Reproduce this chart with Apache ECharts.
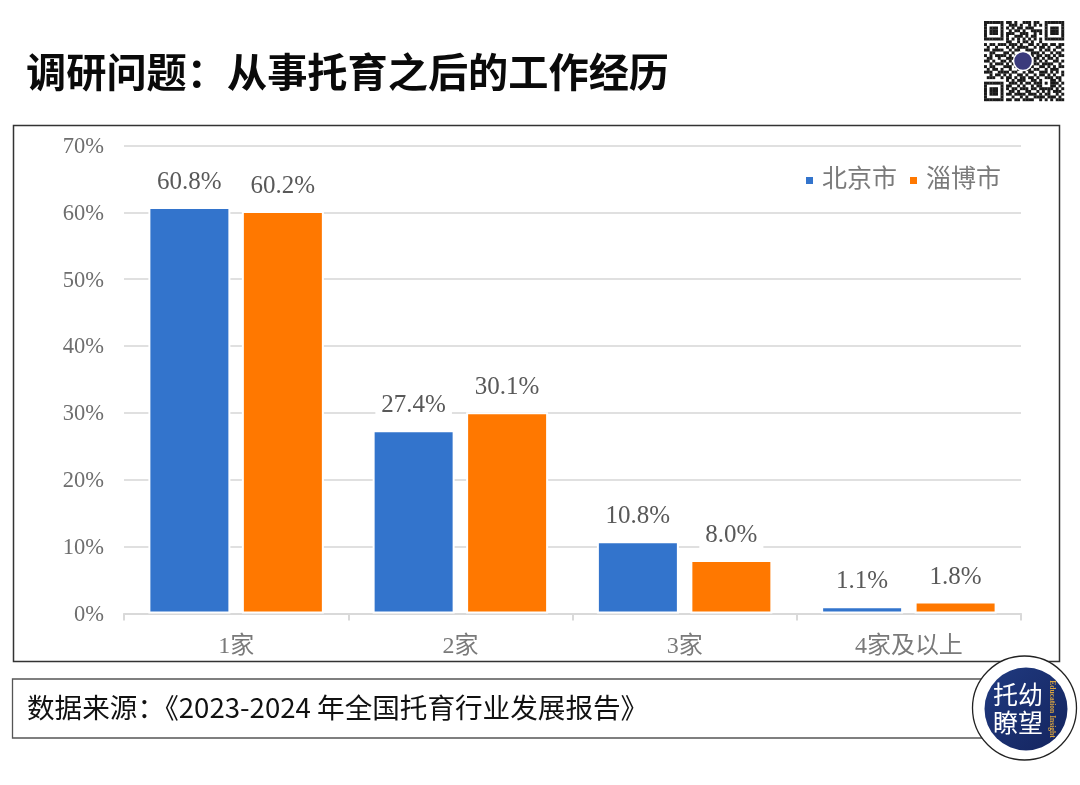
<!DOCTYPE html>
<html><head><meta charset="utf-8">
<style>html,body{margin:0;padding:0;background:#fff}#c{width:1080px;height:785px}</style>
<script src="https://cdn.jsdelivr.net/npm/echarts@6/dist/echarts.min.js"></script>
</head><body><div id="c"></div>
<script>
const categories = ['1家','2家','3家','4家及以上'];
const beijing = [60.8,27.4,10.8,1.1];
const zibo = [60.2,30.1,8.0,1.8];
const seriesNames = ['北京市','淄博市'];
const titleText = '调研问题\uFF1A从事托育之后的工作经历';
const sourceText = '数据来源\uFF1A《2023-2024 年全国托育行业发展报告》';
const qrRows = [
"11111110110100111011001111111",
"10000010011101001010101000001",
"10111010101011011100001011101",
"10111010010110100111101011101",
"10111010111001110010101011101",
"10000010100111010110001000001",
"11111110101010101010101111111",
"00000000110010110100100000000",
"10110111011101001101011011011",
"01001000101011110010110100110",
"11011110010110011100101101001",
"00110001101001100111010010110",
"10101111010110000101101101011",
"01100100111000000011010110100",
"11010011010000000010101001101",
"00101110101000000011011110010",
"10110001110100000100110101011",
"01011010010011011011001011100",
"11100111101100101100111010101",
"00101101010011010010110101001",
"01110010110101101101001110110",
"00000000101011100110100011010",
"11111110011101011011101011101",
"10000010110010100101100011010",
"10111010101101110110111110101",
"10111010011010011001010101110",
"10111010110111101110101100101",
"10000010001001010011110111010",
"11111110110110111100101010111"];

const SERIF = '"Liberation Serif","Noto Sans CJK SC",serif';
const SANS = '"Noto Sans CJK SC",sans-serif';
const qr = [];
const m = 80/29;
qrRows.forEach((r,y)=>{[...r].forEach((v,x)=>{ if(v==='1') qr.push({type:'rect',shape:{x:984+x*m,y:21+y*m,width:m+0.2,height:m+0.2},style:{fill:'#1a1a1a'},silent:true}); });});

const mkLabel = {show:true,position:'top',distance:8,formatter:p=>p.value.toFixed(1)+'%',
  fontFamily:SERIF,fontSize:25,color:'#595959',backgroundColor:'#fff',padding:[4,6]};
const mkSeries = (name,data,color)=>({name,type:'bar',data,barWidth:82,barGap:'14%',
  itemStyle:{color,borderColor:'#fff',borderWidth:2},label:mkLabel,emphasis:{disabled:true}});

const chart = echarts.init(document.getElementById('c'),null,{renderer:'canvas'});
chart.setOption({
  animation:false,
  backgroundColor:'#fff',
  title:{text:titleText,left:26,top:45,padding:0,textStyle:{fontFamily:SANS,fontWeight:700,fontSize:40.2,color:'#0a0a0a',lineHeight:54}},
  legend:{data:seriesNames,right:79,top:168,itemWidth:9,itemHeight:9,itemGap:11,icon:'rect',padding:0,
    textStyle:{fontFamily:SERIF,fontSize:25,color:'#7a7a7a',padding:[0,0,0,3]}},
  grid:{left:124,right:59,top:145.5,bottom:171.5,containLabel:false},
  xAxis:{type:'category',data:categories,
    axisLine:{lineStyle:{color:'#d9d9d9',width:2}},
    axisTick:{show:true,length:7,alignWithLabel:false,lineStyle:{color:'#d9d9d9',width:2}},
    axisLabel:{fontFamily:SERIF,fontSize:24,color:'#7a7a7a',margin:21}},
  yAxis:{type:'value',min:0,max:70,interval:10,
    axisLine:{show:false},axisTick:{show:false},
    splitLine:{lineStyle:{color:'#e0e0e0',width:2}},
    axisLabel:{formatter:'{value}%',fontFamily:SERIF,fontSize:22.5,color:'#6e6e6e',margin:20,verticalAlign:'top',lineHeight:3}},
  series:[mkSeries(seriesNames[0],beijing,'#3374cc'),mkSeries(seriesNames[1],zibo,'#ff7800')],
  graphic:{elements:[
    {type:'rect',z:-1,shape:{x:13.5,y:125.5,width:1046,height:536},style:{fill:'none',stroke:'#333',lineWidth:1.5},silent:true},
    {type:'rect',z:1,shape:{x:12.5,y:679,width:1000,height:59},style:{fill:'#fff',stroke:'#555',lineWidth:1.3},silent:true},
    {type:'text',z:2,style:{x:27,y:708,text:sourceText,fontFamily:SANS,fontSize:27.6,fill:'#111',textVerticalAlign:'middle'},silent:true},
    {type:'group',z:5,children:qr},
    {type:'circle',z:6,shape:{cx:1023,cy:61,r:9.5},style:{fill:'#3a3a7c',stroke:'#fff',lineWidth:1.5},silent:true},
    {type:'circle',z:7,shape:{cx:1024.5,cy:708,r:52},style:{fill:'#fff',stroke:'#222',lineWidth:1.3},silent:true},
    {type:'circle',z:8,shape:{cx:1026,cy:709,r:41.5},style:{fill:new echarts.graphic.LinearGradient(0,0,1,1,[{offset:0,color:'#203a80'},{offset:1,color:'#14245e'}])},silent:true},
    {type:'text',z:9,style:{x:1018,y:697,text:'托幼',fontFamily:SERIF,fontSize:25,fill:'#fff',textAlign:'center',textVerticalAlign:'middle'},silent:true},
    {type:'text',z:9,style:{x:1018,y:725,text:'瞭望',fontFamily:SERIF,fontSize:25,fill:'#fff',textAlign:'center',textVerticalAlign:'middle'},silent:true},
    {type:'text',z:9,x:1052,y:709,rotation:-Math.PI/2,style:{x:0,y:0,text:'Education Insight',fontFamily:'"Liberation Serif"',fontSize:7.5,fontWeight:700,fill:'#d9a441',textAlign:'center',textVerticalAlign:'middle'},silent:true}
  ]}
});
</script></body></html>
